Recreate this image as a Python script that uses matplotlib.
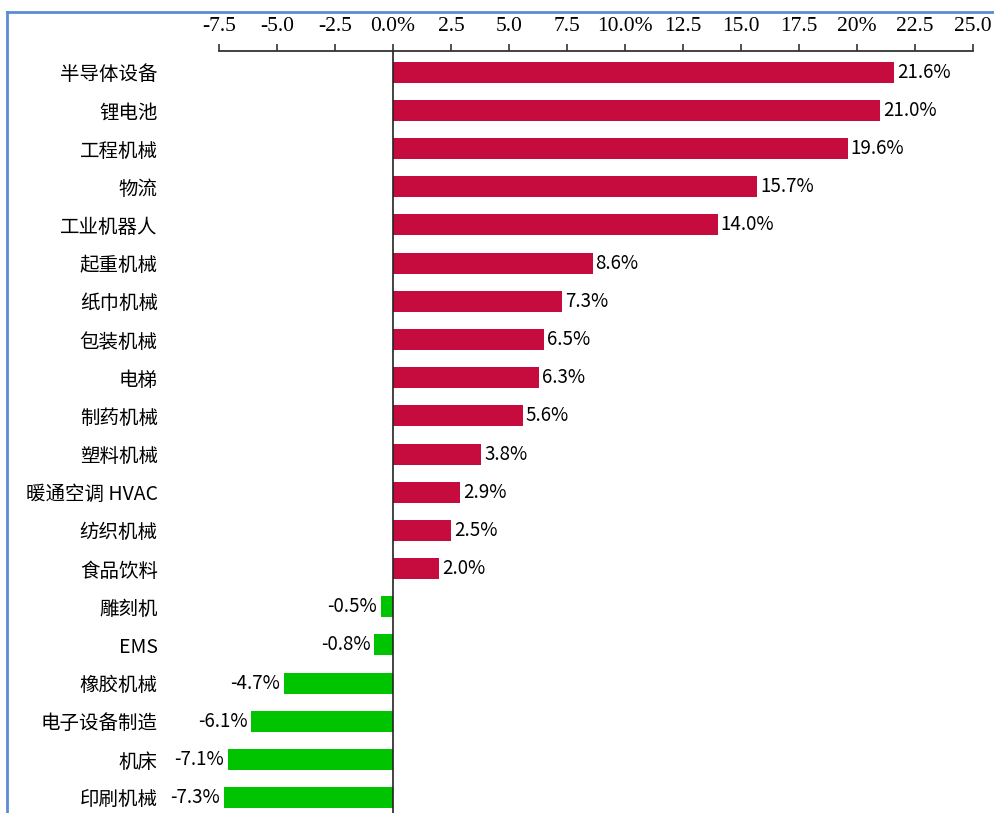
import matplotlib.pyplot as plt
from matplotlib.lines import Line2D
from matplotlib.transforms import offset_copy

plt.rcParams['font.family'] = ['Noto Sans CJK SC', 'DejaVu Sans']

categories = ['半导体设备', '锂电池', '工程机械', '物流', '工业机器人', '起重机械',
              '纸巾机械', '包装机械', '电梯', '制药机械', '塑料机械', '暖通空调 HVAC',
              '纺织机械', '食品饮料', '雕刻机', 'EMS', '橡胶机械', '电子设备制造',
              '机床', '印刷机械']
values = [21.6, 21.0, 19.6, 15.7, 14.0, 8.6, 7.3, 6.5, 6.3, 5.6, 3.8, 2.9,
          2.5, 2.0, -0.5, -0.8, -4.7, -6.1, -7.1, -7.3]
tick_values = [-7.5, -5.0, -2.5, 0.0, 2.5, 5.0, 7.5, 10.0, 12.5, 15.0, 17.5, 20.0, 22.5, 25.0]
tick_labels = ['-7.5', '-5.0', '-2.5', '0.0%', '2.5', '5.0', '7.5', '10.0%', '12.5',
               '15.0', '17.5', '20%', '22.5', '25.0']

red = '#C60C3E'
green = '#00C400'

fig = plt.figure(figsize=(9.95, 8.13), dpi=100)
ax = fig.add_axes([0.220, 0.0, 0.758, 0.937])

pos = list(range(len(categories)))
colors = [red if v >= 0 else green for v in values]
ax.barh(pos, values, height=0.55, color=colors, zorder=2)
ax.axvline(0, color='#222222', linewidth=1.2, zorder=3)

ax.set_xlim(-7.5, 25.0)
ax.set_ylim(19.4, -0.55)

ax.xaxis.tick_top()
ax.set_xticks(tick_values)
ax.set_xticklabels(tick_labels, family=['Liberation Serif', 'DejaVu Serif'], fontsize=15.5)
ax.tick_params(axis='x', direction='out', length=5, width=1.2, color='#333333', pad=6)

ax.set_yticks(pos)
ax.set_yticklabels(categories, fontsize=14)
ax.tick_params(axis='y', length=0, pad=44)

for s in ['left', 'right', 'bottom']:
    ax.spines[s].set_visible(False)
ax.spines['top'].set_linewidth(1.3)
ax.spines['top'].set_color('#333333')

for p, v in zip(pos, values):
    if v >= 0:
        tr = offset_copy(ax.transData, fig=fig, x=3, y=0, units='dots')
        ax.text(v, p, f'{v:.1f}%', transform=tr, ha='left', va='center', fontsize=13.5)
    else:
        tr = offset_copy(ax.transData, fig=fig, x=-4, y=0, units='dots')
        ax.text(v, p, f'{v:.1f}%', transform=tr, ha='right', va='center', fontsize=13.5)

# blue frame on top and left
frame_color = '#5B8DD2'
fig.add_artist(Line2D([7 / 995, 1.0], [1 - 12 / 813, 1 - 12 / 813],
                      transform=fig.transFigure, color=frame_color, linewidth=2))
fig.add_artist(Line2D([7 / 995, 7 / 995], [0.0, 1 - 12 / 813],
                      transform=fig.transFigure, color=frame_color, linewidth=2))

fig.savefig('out.png', dpi=100)
